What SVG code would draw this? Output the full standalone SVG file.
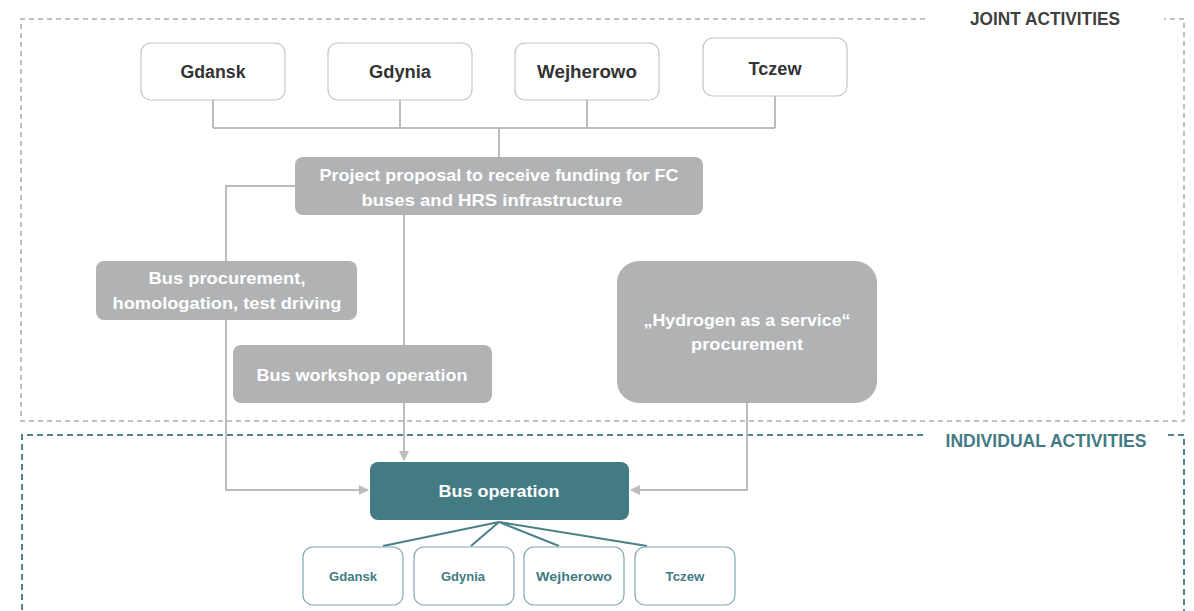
<svg xmlns="http://www.w3.org/2000/svg" width="1194" height="611" viewBox="0 0 1194 611">
<style>
text{font-family:"Liberation Sans",Arial,sans-serif;font-weight:bold;text-anchor:middle}
.city{fill:#fff;stroke:#c4c4c4;stroke-width:1.2}
.cityt{font-size:18px;fill:#333}
.gbox{fill:#b1b2b4}
.gt{font-size:17px;fill:#fff}
.teal{fill:#437b84}
.sub{fill:#fff;stroke:#7fa8ae;stroke-width:1.2}
.subt{font-size:13px;fill:#437b84}
.conn{fill:none;stroke:#bcbcbc;stroke-width:2}
.fan{fill:none;stroke:#4a8089;stroke-width:2}
.jd{fill:none;stroke:#adadad;stroke-width:1.5;stroke-dasharray:5 4}
.id{fill:none;stroke:#4f8790;stroke-width:2;stroke-dasharray:6 4}
</style>
<defs>
<marker id="arr" viewBox="0 0 10 10" refX="9" refY="5" markerWidth="5" markerHeight="5" orient="auto" markerUnits="strokeWidth">
<path d="M0,0 L10,5 L0,10 z" fill="#bcbcbc"/>
</marker>
</defs>
<rect width="1194" height="611" fill="#fff"/>

<g id="frames">
<path class="jd" d="M925,19 H21 V421 H1184 V19 H1164"/>
<path class="id" d="M923,435 H22 V615 M1184,615 V435 H1166"/>
<text x="1045" y="25" style="font-size:18px;fill:#404040" textLength="150" lengthAdjust="spacingAndGlyphs">JOINT ACTIVITIES</text>
<text x="1046" y="447" style="font-size:18px;fill:#437b84" textLength="201" lengthAdjust="spacingAndGlyphs">INDIVIDUAL ACTIVITIES</text>
</g>

<g id="connectors">
<path class="conn" d="M213,100 V128 M400,100 V128 M587,100 V128 M775,96 V128 M213,128 H775 M499,128 V157"/>
<path class="conn" d="M295,186 H226 V490 H368" marker-end="url(#arr)"/>
<path class="conn" d="M404,215 V345 M404,403 V460" marker-end="url(#arr)"/>
<path class="conn" d="M747,403 V490 H631" marker-end="url(#arr)"/>
<path class="fan" d="M499,522 L383,546 M499,522 L471,546 M499,522 L559,546 M499,522 L647,546"/>
</g>

<g id="n-gdansk"><rect class="city" x="141" y="43" width="144" height="57" rx="10"/><text class="cityt" x="213" y="78" textLength="65" lengthAdjust="spacingAndGlyphs">Gdansk</text></g>
<g id="n-gdynia"><rect class="city" x="328" y="43" width="144" height="57" rx="10"/><text class="cityt" x="400" y="78" textLength="62" lengthAdjust="spacingAndGlyphs">Gdynia</text></g>
<g id="n-wejherowo"><rect class="city" x="515" y="43" width="144" height="57" rx="10"/><text class="cityt" x="587" y="78" textLength="100" lengthAdjust="spacingAndGlyphs">Wejherowo</text></g>
<g id="n-tczew"><rect class="city" x="703" y="38" width="144" height="58" rx="10"/><text class="cityt" x="775" y="75" textLength="53" lengthAdjust="spacingAndGlyphs">Tczew</text></g>

<g id="n-proposal"><rect class="gbox" x="295" y="157" width="408" height="58" rx="8"/>
<text class="gt" x="499" y="181" textLength="359" lengthAdjust="spacingAndGlyphs">Project proposal to receive funding for FC</text>
<text class="gt" x="492" y="206" textLength="261" lengthAdjust="spacingAndGlyphs">buses and HRS infrastructure</text></g>

<g id="n-procurement"><rect class="gbox" x="96" y="261" width="261" height="59" rx="8"/>
<text class="gt" x="227" y="284" textLength="157" lengthAdjust="spacingAndGlyphs">Bus procurement,</text>
<text class="gt" x="227" y="309" textLength="229" lengthAdjust="spacingAndGlyphs">homologation, test driving</text></g>

<g id="n-workshop"><rect class="gbox" x="233" y="345" width="259" height="58" rx="8"/>
<text class="gt" x="362" y="381" textLength="211" lengthAdjust="spacingAndGlyphs">Bus workshop operation</text></g>

<g id="n-hydrogen"><rect class="gbox" x="617" y="261" width="260" height="142" rx="22"/>
<text class="gt" x="747" y="326" textLength="207" lengthAdjust="spacingAndGlyphs">„Hydrogen as a service“</text>
<text class="gt" x="747" y="350" textLength="112" lengthAdjust="spacingAndGlyphs">procurement</text></g>

<g id="n-busop"><rect class="teal" x="370" y="462" width="259" height="58" rx="8"/>
<text class="gt" x="499" y="497" textLength="121" lengthAdjust="spacingAndGlyphs">Bus operation</text></g>

<g id="s-gdansk"><rect class="sub" x="303" y="547" width="100" height="58" rx="10"/><text class="subt" x="353" y="581" textLength="48" lengthAdjust="spacingAndGlyphs">Gdansk</text></g>
<g id="s-gdynia"><rect class="sub" x="414" y="547" width="100" height="58" rx="10"/><text class="subt" x="463" y="581" textLength="44" lengthAdjust="spacingAndGlyphs">Gdynia</text></g>
<g id="s-wejherowo"><rect class="sub" x="524" y="547" width="100" height="58" rx="10"/><text class="subt" x="574" y="581" textLength="76" lengthAdjust="spacingAndGlyphs">Wejherowo</text></g>
<g id="s-tczew"><rect class="sub" x="635" y="547" width="100" height="58" rx="10"/><text class="subt" x="685" y="581" textLength="39" lengthAdjust="spacingAndGlyphs">Tczew</text></g>
</svg>
